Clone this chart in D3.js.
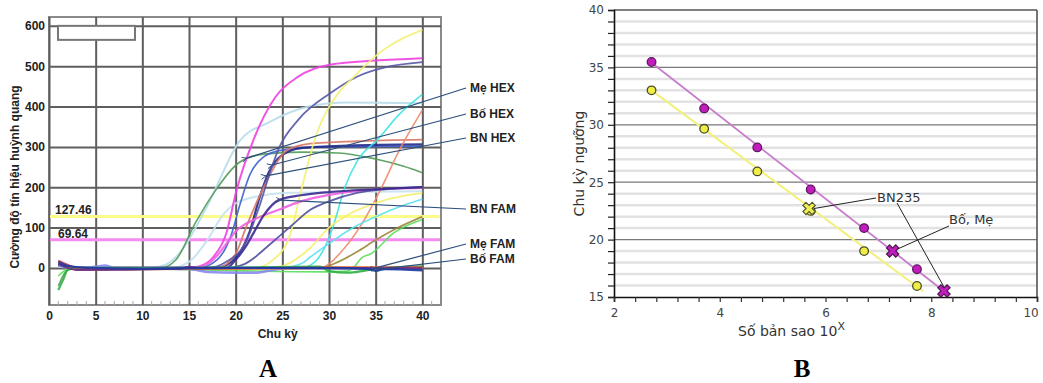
<!DOCTYPE html>
<html>
<head>
<meta charset="utf-8">
<script src="https://cdn.jsdelivr.net/npm/d3@7"></script>
<style>
  body { margin: 0; background: #fff; }
  svg { display: block; }
</style>
</head>
<body>
<svg id="chart" width="1043" height="383"></svg>
<script>
// ---------- panel A data (cycle, fluorescence) ----------
const cycleTicks = [0, 5, 10, 15, 20, 25, 30, 35, 40];
const rfuTicks = [0, 100, 200, 300, 400, 500, 600];
const thresholdHex = 127.46;
const thresholdFam = 69.64;

const hexPaleBlue = [[1,6],[3,0],[11,0],[12.5,8],[14,37],[16.9,151],[20.5,317],[23.4,359],[27.6,399],[32,410],[40,408]];
const hexMagenta = [[1,14],[2,4],[3,0],[15,0],[16,3],[17.6,27],[19,86],[20.1,193],[21.9,317],[24.3,425],[26.7,474],[30.2,504],[35,514],[40,520]];
const hexGreen = [[1,-45],[1.7,-12],[2.5,0],[12,0],[13.6,20],[15.7,112],[17.9,194],[20.3,260],[23,282],[27,287],[31,285],[35,270],[38,252],[40,236]];
const hexSlate = [[1,10],[3,0],[17,0],[19,15],[21,60],[22.5,150],[23.8,245],[24.6,295],[26.7,367],[30.2,434],[33,474],[36,497],[40,510]];
const hexBlue = [[1,8],[3,0],[16,0],[18,20],[19.5,80],[20.5,160],[21.5,230],[23,275],[25,292],[30,300],[40,302]];
const hexNavy = [[1,12],[3,0],[18,0],[20,25],[21.5,90],[22.5,170],[23.5,235],[25,280],[27,297],[32,303],[40,306]];
const hexRed = [[1,16],[3,0],[18,0],[20,35],[21.1,100],[23,200],[25.6,293],[28,308],[33,314],[40,318]];
const hexYellow = [[1,4],[3,0],[22,0],[24,20],[25.8,80],[27,190],[28.5,320],[30.9,430],[32.5,470],[35.5,535],[40,590]];
const hexCyan = [[1,5],[3,0],[27,0],[28.5,15],[29.3,40],[30.4,100],[31.7,200],[33.1,268],[35.2,318],[37.5,380],[40,430]];
const hexOrange = [[1,12],[3,0],[29,0],[30,10],[31.2,37],[33.3,101],[35.5,193],[37.5,290],[40,391]];

const famPaleBlue = [[1,3],[3,0],[13,0],[15,15],[17,70],[18.6,130],[20,160],[23,180],[26,186],[32,188],[40,190]];
const famPink = [[1,10],[3,0],[15,0],[17,10],[18,30],[19,60],[20,90],[22,120],[24.6,144],[27,165],[30,181],[35,194],[40,198]];
const famNavy = [[1,8],[3,0],[19,0],[20,20],[21,50],[22,90],[23,130],[24.6,168],[27,180],[30,188],[35,195],[40,200]];
const famSlate = [[1,6],[3,0],[19,0],[21,10],[22,25],[23,45],[24.6,77],[26,105],[28,144],[30,165],[33,186],[36,195],[40,200]];
const famYellow = [[1,5],[3,0],[24,0],[26,15],[28,50],[30,100],[31.7,127],[35,161],[40,186]];
const famCyan = [[1,4],[3,0],[25,0],[27,10],[28,27],[30,60],[31.7,87],[33,105],[35,127],[38,155],[40,170]];
const famOlive = [[1,10],[3,0],[29,0],[31,15],[33,40],[35,69],[37,95],[40,127]];
const famLightGreen = [[1,-20],[2,-3],[3,0],[30,-10],[32,-8],[32.8,5],[33.5,25],[34.5,35],[36.9,86],[40,120]];

const ntcNavy = [[1,15],[2,5],[4,0],[10,-2],[20,0],[30,0],[34,-2],[35,-7],[36,-3],[40,-6]];
const ntcGreen = [[1,-55],[1.5,-30],[2,-5],[3,0],[15,0],[29,3],[30,-8],[32,-12],[34,-6],[36,0],[40,4]];
const ntcOrange = [[1,12],[2,4],[3,-5],[10,-3],[20,-2],[28,0],[30,2],[40,0]];
const ntcLavender = [[1,5],[3,0],[5,3],[6,6],[7,0],[15,-3],[17,-10],[20,-12],[22,-12],[24,-5],[26,0],[40,-2]];
const ntcRed = [[1,18],[2,8],[3,0],[9,-3],[15,-2],[25,0],[40,2]];
const ntcPurple = [[1,10],[2,0],[3,-5],[14,-2],[15,3],[16,0],[40,-1]];

const arrowLabels = ["Mẹ HEX", "Bố HEX", "BN HEX", "BN FAM", "Mẹ FAM", "Bố FAM"];
const arrowTargets = [[21.2,272],[23.9,255],[23.25,228],[24.86,168],[35,0],[35.5,-3]];

// ---------- panel B data (log copies, Ct) ----------
const logTicks = [2, 4, 6, 8, 10];
const ctTicks = [15, 20, 25, 30, 35, 40];
const stdLog = [2.71, 3.705, 4.71, 5.72, 6.73, 7.73];
const stdCtMagenta = [35.47, 31.43, 28.03, 24.37, 21.0, 17.42];
const stdCtYellow = [33.0, 29.65, 25.94, 22.5, 19.0, 15.96];
const fitMagenta = [[2.71, 35.4], [8.24, 15.5]];
const fitYellow = [[2.71, 33.0], [7.85, 15.5]];
const sampleBN235 = [5.69, 22.71];
const sampleParents = [[7.27, 19.01], [8.24, 15.53]];

const svg = d3.select("#chart");
const fontA = "'Liberation Sans', Arial, sans-serif";

// ================= panel A =================
const xA = d3.scaleLinear().domain([0, 42]).range([49, 441]);
const yA = d3.scaleLinear().domain([-92, 622]).range([305, 17]);
const gA = svg.append("g");

gA.append("rect")
  .attr("x", xA(0)).attr("y", yA(622))
  .attr("width", xA(42) - xA(0)).attr("height", yA(-92) - yA(622))
  .attr("fill", "#fff").attr("stroke", "#8a8a8a").attr("stroke-width", 2);

gA.append("g")
  .attr("transform", `translate(0,${yA(-92)})`)
  .call(d3.axisBottom(xA).tickValues(cycleTicks).tickSize(-(yA(-92) - yA(622))).tickPadding(6))
  .call(g => g.select(".domain").remove())
  .call(g => g.selectAll("line").attr("stroke", "#5e5e5e").attr("stroke-width", 2))
  .call(g => g.selectAll("text").attr("fill", "#222").style("font", `bold 12px ${fontA}`));

gA.append("g")
  .attr("transform", `translate(${xA(0)},0)`)
  .call(d3.axisLeft(yA).tickValues(rfuTicks).tickSize(-(xA(42) - xA(0))).tickPadding(4))
  .call(g => g.select(".domain").remove())
  .call(g => g.selectAll("line").attr("stroke", "#5e5e5e").attr("stroke-width", 2))
  .call(g => g.selectAll("text").attr("fill", "#222").style("font", `bold 12px ${fontA}`));

// small minor ticks along the bottom
gA.append("g").selectAll("line")
  .data(d3.range(1, 42).filter(d => d % 5 !== 0))
  .join("line")
  .attr("x1", d => xA(d)).attr("x2", d => xA(d))
  .attr("y1", yA(-92)).attr("y2", yA(-92) - 4)
  .attr("stroke", "#aaa").attr("stroke-width", 1);

gA.append("rect")
  .attr("x", 58).attr("y", yA(600)).attr("width", 77).attr("height", 14)
  .attr("fill", "#fff").attr("stroke", "#777").attr("stroke-width", 2);

// threshold lines
gA.append("line")
  .attr("x1", xA(0) + 1).attr("x2", xA(42) - 1)
  .attr("y1", yA(thresholdHex)).attr("y2", yA(thresholdHex))
  .attr("stroke", "#fbfb8a").attr("stroke-width", 3);
gA.append("line")
  .attr("x1", xA(0) + 1).attr("x2", xA(42) - 1)
  .attr("y1", yA(thresholdFam)).attr("y2", yA(thresholdFam))
  .attr("stroke", "#f58af0").attr("stroke-width", 3);

const seriesA = [
  { data: hexPaleBlue, color: "#b8dcea", w: 2 },
  { data: famPaleBlue, color: "#c4e2ef", w: 2 },
  { data: hexGreen, color: "#4f9a55", w: 1.6 },
  { data: hexMagenta, color: "#f040e0", w: 2 },
  { data: hexBlue, color: "#3d5fd0", w: 1.6 },
  { data: hexNavy, color: "#222a88", w: 2.2 },
  { data: hexRed, color: "#d87868", w: 1.8 },
  { data: hexSlate, color: "#5656a8", w: 1.8 },
  { data: hexYellow, color: "#f4f070", w: 1.8 },
  { data: hexCyan, color: "#3ee2e2", w: 1.6 },
  { data: hexOrange, color: "#ee8a6a", w: 1.6 },
  { data: famYellow, color: "#f4ee6a", w: 1.8 },
  { data: famCyan, color: "#5ce0f0", w: 1.6 },
  { data: famOlive, color: "#9c8a3c", w: 1.8 },
  { data: famLightGreen, color: "#5ade5a", w: 1.6 },
  { data: famPink, color: "#f060e0", w: 2.2 },
  { data: famSlate, color: "#5050a0", w: 1.8 },
  { data: famNavy, color: "#3a2a90", w: 2.2 },
  { data: ntcLavender, color: "#8a88f0", w: 2.5 },
  { data: ntcOrange, color: "#f0902a", w: 2.2 },
  { data: ntcGreen, color: "#2eb040", w: 2.2 },
  { data: ntcRed, color: "#e04848", w: 1.8 },
  { data: ntcPurple, color: "#6a2a8a", w: 2 },
  { data: ntcNavy, color: "#1e3aa0", w: 2.4 }
];

svg.append("clipPath").attr("id", "clipA")
  .append("rect").attr("x", xA(0)).attr("y", yA(622))
  .attr("width", xA(42) - xA(0)).attr("height", yA(-92) - yA(622));

const lineA = d3.line()
  .x(d => xA(d[0])).y(d => yA(d[1]))
  .curve(d3.curveMonotoneX);

gA.append("g").attr("clip-path", "url(#clipA)")
  .selectAll("path")
  .data(seriesA)
  .join("path")
  .attr("d", d => lineA(d.data))
  .attr("fill", "none")
  .attr("stroke", d => d.color)
  .attr("stroke-width", d => d.w)
  .attr("stroke-opacity", 0.9);

gA.append("text").attr("x", 55).attr("y", yA(thresholdHex) - 2)
  .attr("fill", "#222").style("font", `bold 12px ${fontA}`)
  .text("127.46");
gA.append("text").attr("x", 58).attr("y", yA(thresholdFam) - 2)
  .attr("fill", "#222").style("font", `bold 12px ${fontA}`)
  .text("69.64");

gA.append("text")
  .attr("transform", `translate(19,${(yA(-92) + yA(622)) / 2 + 16}) rotate(-90)`)
  .attr("text-anchor", "middle")
  .attr("fill", "#222").style("font", `bold 12px ${fontA}`)
  .text("Cường độ tín hiệu huỳnh quang");

gA.append("text").attr("x", xA(24.5)).attr("y", 338)
  .attr("text-anchor", "middle")
  .attr("fill", "#222").style("font", `bold 12px ${fontA}`)
  .text("Chu kỳ");

// arrows to curves
const defs = svg.append("defs");
defs.append("marker").attr("id", "arrowA")
  .attr("viewBox", "-1 -5 10 10").attr("refX", 0).attr("refY", 0)
  .attr("markerWidth", 7).attr("markerHeight", 7)
  .attr("markerUnits", "userSpaceOnUse").attr("orient", "auto-start-reverse")
  .append("path").attr("d", "M7,-3.5L0,0L7,3.5")
  .attr("fill", "none").attr("stroke", "#2c4f7c").attr("stroke-width", 1.3);

const labelYs = [88, 114, 138, 209, 244, 259];
const labelX = 470;
const ann = gA.append("g");
arrowLabels.forEach((lab, i) => {
  ann.append("line")
    .attr("x1", labelX - 4).attr("y1", labelYs[i])
    .attr("x2", xA(arrowTargets[i][0])).attr("y2", yA(arrowTargets[i][1]))
    .attr("stroke", "#2c4f7c").attr("stroke-width", 1.2)
    .attr("marker-end", "url(#arrowA)");
  ann.append("text")
    .attr("x", labelX).attr("y", labelYs[i]).attr("dy", "0.35em")
    .attr("fill", "#222").style("font", `bold 12px ${fontA}`)
    .text(lab);
});

svg.append("text").attr("x", 268).attr("y", 377)
  .attr("text-anchor", "middle")
  .style("font", "bold 25px 'Liberation Serif', 'Times New Roman', serif")
  .text("A");

// ================= panel B =================
const xB = d3.scaleLinear().domain([2, 10]).range([614, 1037]);
const yB = d3.scaleLinear().domain([15, 40]).range([297, 10]);
const gB = svg.append("g");
const fontB = "'DejaVu Sans', Verdana, sans-serif";

gB.append("g").selectAll("line")
  .data(d3.range(16, 40).filter(d => d % 5 !== 0))
  .join("line")
  .attr("x1", xB(2)).attr("x2", xB(10))
  .attr("y1", d => yB(d)).attr("y2", d => yB(d))
  .attr("stroke", "#e2e2e2").attr("stroke-width", 2.5);

gB.append("g").selectAll("line")
  .data(ctTicks.filter(d => d > 15 && d < 40))
  .join("line")
  .attr("x1", xB(2)).attr("x2", xB(10))
  .attr("y1", d => yB(d)).attr("y2", d => yB(d))
  .attr("stroke", "#7a7a7a").attr("stroke-width", 1.3);

gB.append("line")
  .attr("x1", xB(2)).attr("x2", xB(10)).attr("y1", yB(40)).attr("y2", yB(40))
  .attr("stroke", "#555").attr("stroke-width", 1.6);
gB.append("line")
  .attr("x1", xB(10)).attr("x2", xB(10)).attr("y1", yB(40)).attr("y2", yB(15))
  .attr("stroke", "#555").attr("stroke-width", 1.6);

gB.append("g")
  .attr("transform", `translate(${xB(2)},0)`)
  .call(d3.axisLeft(yB).tickValues(d3.range(15, 41)).tickSize(6).tickPadding(4)
    .tickFormat(d => ctTicks.includes(d) ? d : ""))
  .call(g => g.select(".domain").attr("stroke", "#111").attr("stroke-width", 1.6))
  .call(g => g.selectAll("line").attr("stroke", "#222").attr("stroke-width", 1.2))
  .call(g => g.selectAll("text").attr("fill", "#444").style("font", `12px ${fontB}`));

gB.append("g")
  .attr("transform", `translate(0,${yB(15)})`)
  .call(d3.axisBottom(xB).tickValues(d3.range(0, 21).map(i => 2 + i * 0.4)).tickSize(5).tickPadding(6)
    .tickFormat(d => logTicks.some(t => Math.abs(t - d) < 1e-6) ? Math.round(d) : ""))
  .call(g => g.select(".domain").attr("stroke", "#111").attr("stroke-width", 1.6))
  .call(g => g.selectAll("line").attr("stroke", "#333").attr("stroke-width", 1.2))
  .call(g => g.selectAll("text").attr("fill", "#444").style("font", `12px ${fontB}`))
  .call(g => g.selectAll(".tick").filter(d => Math.abs(d - 10) < 1e-6).select("text")
    .attr("text-anchor", "end").attr("dx", "0.1em"));

const lineB = d3.line().x(d => xB(d[0])).y(d => yB(d[1]));
gB.append("path").attr("d", lineB(fitYellow))
  .attr("fill", "none").attr("stroke", "#f3f07a").attr("stroke-width", 2);
gB.append("path").attr("d", lineB(fitMagenta))
  .attr("fill", "none").attr("stroke", "#c77ccc").attr("stroke-width", 1.8);

gB.append("g").selectAll("circle")
  .data(stdLog.map((x, i) => [x, stdCtYellow[i]]))
  .join("circle")
  .attr("cx", d => xB(d[0])).attr("cy", d => yB(d[1])).attr("r", 4.3)
  .attr("fill", "#eeee44").attr("stroke", "#4a4a30").attr("stroke-width", 1.3);
gB.append("g").selectAll("circle")
  .data(stdLog.map((x, i) => [x, stdCtMagenta[i]]))
  .join("circle")
  .attr("cx", d => xB(d[0])).attr("cy", d => yB(d[1])).attr("r", 4.3)
  .attr("fill", "#c21cbf").attr("stroke", "#5a1a5a").attr("stroke-width", 1.3);

const xMark = d3.symbol(d3.symbolCross, 95);
gB.append("path")
  .attr("d", xMark())
  .attr("transform", `translate(${xB(sampleBN235[0])},${yB(sampleBN235[1])}) rotate(45)`)
  .attr("fill", "#eeee55").attr("stroke", "#555530").attr("stroke-width", 1.2);
gB.append("g").selectAll("path")
  .data(sampleParents)
  .join("path")
  .attr("d", xMark())
  .attr("transform", d => `translate(${xB(d[0])},${yB(d[1])}) rotate(45)`)
  .attr("fill", "#c21cbf").attr("stroke", "#4a1a4a").attr("stroke-width", 1.2);

// callouts
gB.append("line")
  .attr("x1", xB(sampleBN235[0]) + 5).attr("y1", yB(sampleBN235[1]))
  .attr("x2", 876).attr("y2", 198)
  .attr("stroke", "#222").attr("stroke-width", 1);
gB.append("line")
  .attr("x1", 897).attr("y1", 203)
  .attr("x2", xB(sampleParents[1][0])).attr("y2", yB(sampleParents[1][1]) - 4)
  .attr("stroke", "#222").attr("stroke-width", 1);
gB.append("line")
  .attr("x1", 949).attr("y1", 226)
  .attr("x2", xB(sampleParents[0][0]) + 5).attr("y2", yB(sampleParents[0][1]) - 2)
  .attr("stroke", "#222").attr("stroke-width", 1);
gB.append("text").attr("x", 877).attr("y", 197).attr("dy", "0.35em")
  .attr("fill", "#333").style("font", `13px ${fontB}`).text("BN235");
gB.append("text").attr("x", 949).attr("y", 219).attr("dy", "0.35em")
  .attr("fill", "#333").style("font", `13px ${fontB}`).text("Bố, Mẹ");

gB.append("text")
  .attr("transform", `translate(584,${(yB(15) + yB(40)) / 2 + 10}) rotate(-90)`)
  .attr("text-anchor", "middle")
  .attr("fill", "#333").style("font", `14px ${fontB}`)
  .text("Chu kỳ ngưỡng");

const xTitle = gB.append("text").attr("x", 738).attr("y", 336)
  .attr("fill", "#333").style("font", `14px ${fontB}`);
xTitle.append("tspan").text("Số bản sao 10");
xTitle.append("tspan").attr("dy", -6).style("font-size", "11px").text("X");

svg.append("text").attr("x", 802).attr("y", 377)
  .attr("text-anchor", "middle")
  .style("font", "bold 25px 'Liberation Serif', 'Times New Roman', serif")
  .text("B");
</script>
</body>
</html>
